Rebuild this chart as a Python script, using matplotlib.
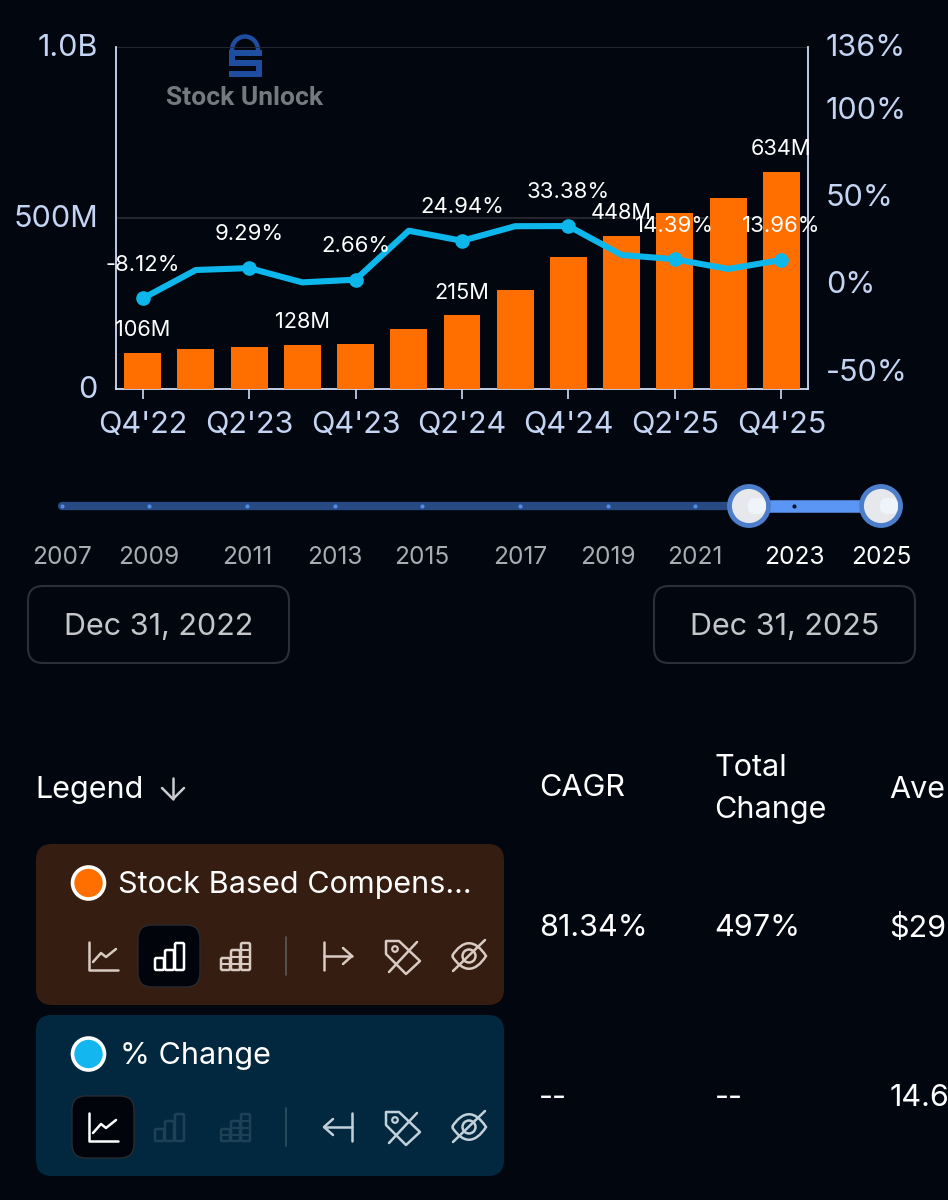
import matplotlib
matplotlib.use("Agg")
import matplotlib.pyplot as plt
from matplotlib.patches import FancyBboxPatch, Circle, Rectangle, Arc, Polygon, PathPatch
from matplotlib.path import Path
from matplotlib.ticker import FixedLocator
from matplotlib.transforms import ScaledTranslation

plt.rcParams['font.family'] = ['Inter', 'DejaVu Sans']

# ---------- data ----------
quarters = ["Q4'22", "Q1'23", "Q2'23", "Q3'23", "Q4'23", "Q1'24", "Q2'24",
            "Q3'24", "Q4'24", "Q1'25", "Q2'25", "Q3'25", "Q4'25"]
sbc_m = [106, 117, 124, 128, 133, 174, 215, 289, 385, 448, 514, 558, 634]
pct_change = [-8.12, 8.2, 9.29, 1.1, 2.66, 30.7, 24.94, 33.3, 33.38, 16.8, 14.39, 8.8, 13.96]
bar_label_idx = [0, 3, 6, 9, 12]
pct_label_idx = [0, 2, 4, 6, 8, 10, 12]
left_ticks = [0, 500, 1000]
left_labels = ['0', '500M', '1.0B']
right_ticks = [-50, 0, 50, 100, 136]
right_labels = ['-50%', '0%', '50%', '100%', '136%']
slider_years = [2007, 2009, 2011, 2013, 2015, 2017, 2019, 2021, 2023, 2025]
slider_x = [62, 149, 247, 335, 422, 520, 608, 695, 794, 881]
date_from = 'Dec 31, 2022'
date_to = 'Dec 31, 2025'
columns = ['CAGR', 'Total\nChange', 'Ave']
row_sbc = ['81.34%', '497%', '$29']
row_pct = ['--', '--', '14.6']

BG = '#02060f'
AXC = '#cfdcf6'
TICKC = '#c3d5f3'
ORANGE = '#ff6f00'
CYAN = '#0db7ec'
W, H = 948, 1200
FS = 22

fig = plt.figure(figsize=(W / 100, H / 100), dpi=100, facecolor=BG)

# pixel-space layer for the UI furniture
ui = fig.add_axes([0, 0, 1, 1], zorder=0)
ui.set_xlim(0, W); ui.set_ylim(H, 0); ui.axis('off')

def box(x0, y0, x1, y1, r, fc, ec='none', lw=0, z=1):
    p = FancyBboxPatch((x0, y0), x1 - x0, y1 - y0, boxstyle=f'round,pad=0,rounding_size={r}',
                       fc=fc, ec=ec, lw=lw, zorder=z)
    ui.add_patch(p)
    return p

def seg(pts, c, lw=1.8, z=4):
    ui.plot([p[0] for p in pts], [p[1] for p in pts], color=c, lw=lw, zorder=z,
            solid_capstyle='round', solid_joinstyle='round')

# ---------- main chart ----------
L, R, T, B = 116, 808, 47, 389
ax = fig.add_axes([L / W, 1 - B / H, (R - L) / W, (B - T) / H], zorder=2)
ax.patch.set_alpha(0)
xs = list(range(len(quarters)))
ax.bar(xs, sbc_m, width=0.695, color=ORANGE, zorder=3)
ax.set_xlim(-0.5, len(quarters) - 0.5)
ax.set_ylim(0, 1000)
ax.yaxis.set_major_locator(FixedLocator(left_ticks))
ax.set_yticklabels(left_labels, fontsize=FS, color=TICKC)
ax.tick_params(axis='y', length=0, pad=13)
ax.set_xticks(xs[::2])
ax.set_xticklabels(quarters[::2], fontsize=FS, color=TICKC)
ax.tick_params(axis='x', length=7.5, width=1.2, color=AXC, pad=8)
ax.grid(axis='y', color='#2a2d36', lw=1.2, zorder=0)
ax.set_axisbelow(True)
for s in ['left', 'right', 'bottom']:
    ax.spines[s].set_color(AXC); ax.spines[s].set_linewidth(1.3)
ax.spines['top'].set_visible(False)
for i in bar_label_idx:
    ax.annotate(f'{sbc_m[i]}M', (xs[i], sbc_m[i]), xytext=(0, 16.5), textcoords='offset points',
                ha='center', va='center', color='white', fontsize=15.7, zorder=6, annotation_clip=False)

ax2 = ax.twinx()
ax2.set_zorder(3); ax2.patch.set_alpha(0)
ax2.set_ylim(-60, 136)
ax2.plot(xs, pct_change, color=CYAN, lw=4.4, marker='o', ms=9.5, markevery=pct_label_idx,
         solid_joinstyle='round', solid_capstyle='round', zorder=5)
ax2.yaxis.set_major_locator(FixedLocator(right_ticks))
ax2.set_yticklabels(right_labels, fontsize=FS, color=TICKC)
ax2.tick_params(axis='y', length=0, pad=13)
for s in ax2.spines.values():
    s.set_visible(False)
up = ScaledTranslation(0, 0.02, fig.dpi_scale_trans)
for lab in ax.get_yticklabels() + ax2.get_yticklabels():
    lab.set_transform(lab.get_transform() + up)
for i in pct_label_idx:
    ax2.annotate(f'{pct_change[i]:.2f}%', (xs[i], pct_change[i]), xytext=(0, 24.2), textcoords='offset points',
                 ha='center', va='center', color='white', fontsize=15.9, zorder=7, annotation_clip=False)

# ---------- watermark ----------
LOGO = '#1f4ea0'
ui.add_patch(Arc((245, 50), 26, 27, theta1=180, theta2=360, ec=LOGO, lw=3.2, zorder=3))
ui.add_patch(Rectangle((229, 50), 33, 6, fc=LOGO, zorder=3))
ui.add_patch(Rectangle((229, 50), 6, 15, fc=LOGO, zorder=3))
ui.add_patch(Rectangle((229, 60), 33, 6, fc=LOGO, zorder=3))
ui.add_patch(Rectangle((256, 60), 6, 17, fc=LOGO, zorder=3))
ui.add_patch(Rectangle((229, 71), 33, 6, fc=LOGO, zorder=3))
ui.text(245, 98, 'Stock Unlock', family='Roboto', fontweight='bold', fontsize=19,
        color='#75787f', ha='center', va='center', zorder=3)

# ---------- range slider ----------
ui.plot([slider_x[0], 750], [506, 506], color='#284a82', lw=6, solid_capstyle='round', zorder=2)
ui.plot([750, slider_x[-1]], [506, 506], color='#5b96f5', lw=9, solid_capstyle='butt', zorder=2)
for x, y in zip(slider_x, slider_years):
    active = y >= 2023
    ui.plot([x], [506], 'o', ms=3, color='#0a1428' if active else '#4f8be8', zorder=3, mew=0)
    ui.text(x, 558, str(y), ha='center', va='center', fontsize=17.6,
            color='white' if active else '#a9adb3', zorder=3)
for hx in (749, 881):
    ui.add_patch(Circle((hx, 506), 19.5, fc='#e6e8ec', ec='#4c7ecb', lw=3.5, zorder=5))
    ui.add_patch(FancyBboxPatch((hx - 1, 498), 18, 16, boxstyle='round,pad=0,rounding_size=7',
                                fc='#eff4fa', ec='none', zorder=6))

# ---------- date buttons ----------
box(28, 586, 289, 663, 15, BG, ec='#2b2f38', lw=1.5)
box(654, 586, 915, 663, 15, BG, ec='#2b2f38', lw=1.5)
ui.text(158.5, 627, date_from, ha='center', va='center', fontsize=FS, color='#c4c6ca', zorder=3)
ui.text(784.5, 627, date_to, ha='center', va='center', fontsize=FS, color='#c4c6ca', zorder=3)

# ---------- table header ----------
ui.text(35.5, 790, 'Legend', ha='left', va='center', fontsize=FS, color='white', zorder=3)
seg([(173, 778), (173, 799)], '#c9cbd0', 1.8)
seg([(162, 788), (173, 799), (184, 788)], '#c9cbd0', 1.8)
cx = [539, 714.5, 889.5]
ui.text(cx[0], 788, columns[0], ha='left', va='center', fontsize=FS, color='white', zorder=3)
ui.text(cx[1], 789, columns[1], ha='left', va='center', fontsize=FS, color='white', zorder=3,
        linespacing=1.68)
ui.text(cx[2], 790, columns[2], ha='left', va='center', fontsize=FS, color='white', zorder=3)
for row, yy in ((row_sbc, 928), (row_pct, 1098)):
    for x, v in zip(cx, row):
        ui.text(x, yy, v, ha='left', va='center', fontsize=FS, color='white', zorder=3)

# ---------- legend rows ----------
def line_icon(x, y, c):
    seg([(x - 14, y - 14), (x - 14, y + 14), (x + 15, y + 14)], c)
    seg([(x - 10, y + 6), (x - 2, y - 3), (x + 3, y + 1), (x + 13, y - 7)], c)

def bars_icon(x, y, c):
    for dx, h in ((-14, 12), (-4, 20), (6, 27)):
        ui.add_patch(FancyBboxPatch((x + dx, y + 14 - h), 9, h, boxstyle='round,pad=0,rounding_size=1.5',
                                    fc='none', ec=c, lw=1.8, zorder=4))

def stack_icon(x, y, c):
    bars_icon(x, y, c)
    seg([(x - 14, y + 8), (x + 15, y + 8)], c, 1.5)
    seg([(x - 4, y + 1), (x + 15, y + 1)], c, 1.5)
    seg([(x + 6, y - 6), (x + 15, y - 6)], c, 1.5)

def tag_icon(x, y, c):
    pts = [(x - 17, y - 15), (x - 4, y - 15), (x + 17, y + 5), (x + 3, y + 18), (x - 17, y - 2)]
    ui.add_patch(Polygon(pts, closed=True, fc='none', ec=c, lw=1.8, joinstyle='round', zorder=4))
    ui.add_patch(Circle((x - 8, y - 7), 2.8, fc='none', ec=c, lw=1.6, zorder=4))
    seg([(x - 14, y + 16), (x + 14, y - 14)], c, 1.8)

def eye_icon(x, y, c):
    verts = [(x - 17, y), (x - 6, y - 17), (x + 6, y - 17), (x + 17, y),
             (x + 6, y + 17), (x - 6, y + 17), (x - 17, y)]
    codes = [Path.MOVETO] + [Path.CURVE4] * 6
    ui.add_patch(PathPatch(Path(verts, codes), fc='none', ec=c, lw=1.8, zorder=4))
    ui.add_patch(Circle((x, y), 6.5, fc='none', ec=c, lw=1.8, zorder=4))
    seg([(x - 16, y + 15), (x + 16, y - 16)], c, 1.8)

rows = [
    dict(top=844, bot=1005, fc='#351d12', dot=ORANGE, name='Stock Based Compens...', icon='#d9cbc3', active=1,
         dim=False, arrow='right', name_x=118.5),
    dict(top=1015, bot=1176, fc='#02283f', dot='#14b6f0', name='% Change', icon='#c2d0da', active=0,
         dim=True, arrow='left', name_x=120),
]
for r in rows:
    top = r['top']
    box(36, top, 504, r['bot'], 16, r['fc'])
    ui.add_patch(Circle((88.5, top + 39), 16, fc=r['dot'], ec='white', lw=2.6, zorder=4))
    ui.text(r['name_x'], top + 41, r['name'], ha='left', va='center', fontsize=FS, color='white', zorder=4)
    iy = top + 112
    ix = [103, 169, 235]
    ax_i = r['active']
    box(ix[ax_i] - 31, iy - 31, ix[ax_i] + 31, iy + 31, 14, '#02040c', ec='#2a2a30', lw=1.0, z=3)
    cols = [r['icon']] * 3
    if r['dim']:
        cols = [r['icon'], '#1f4156', '#1f4156']
    cols[ax_i] = 'white'
    line_icon(ix[0], iy, cols[0]); bars_icon(ix[1], iy, cols[1]); stack_icon(ix[2], iy, cols[2])
    seg([(286.5, iy - 19), (286.5, iy + 19)], '#5d5a58' if not r['dim'] else '#2f5063', 1.2)
    if r['arrow'] == 'right':
        seg([(324, iy - 14), (324, iy + 14)], r['icon'])
        seg([(324, iy), (352, iy)], r['icon'])
        seg([(343, iy - 8), (352, iy), (343, iy + 8)], r['icon'])
    else:
        seg([(352, iy - 14), (352, iy + 14)], r['icon'])
        seg([(324, iy), (352, iy)], r['icon'])
        seg([(333, iy - 8), (324, iy), (333, iy + 8)], r['icon'])
    tag_icon(403, iy, r['icon'])
    eye_icon(469, iy, r['icon'])

fig.savefig('out.png', dpi=100, facecolor=BG)
